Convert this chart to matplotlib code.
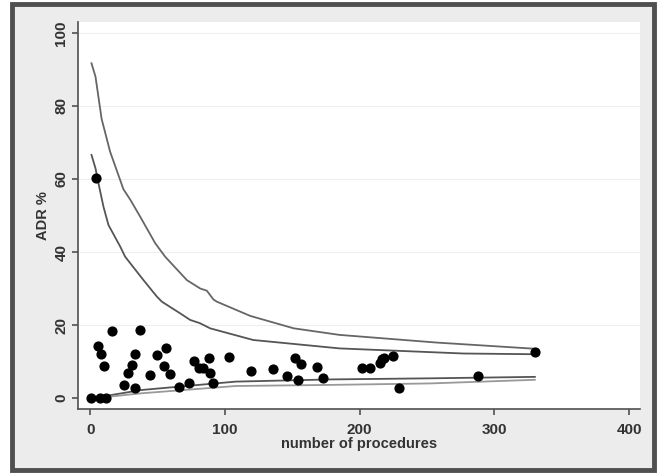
import matplotlib.pyplot as plt
from matplotlib.patches import Rectangle

# ADR per endoscopist vs number of procedures
n_proc = [1, 7, 12, 4.5, 16, 37, 6, 8, 10.5, 33, 31, 28, 25, 33, 49.5, 56,
          44.5, 54.5, 59.5, 66, 73, 77, 81, 83.5, 88, 89, 91, 103, 119, 136,
          146, 152, 156.5, 154.5, 168, 172.5, 202, 208, 215, 216.5, 218, 225,
          229, 288, 330]
adr = [0, 0, 0, 60.2, 18.4, 18.6, 14.3, 12.2, 8.8, 12, 9, 6.8, 3.7, 2.8,
       11.8, 13.8, 6.3, 8.8, 6.5, 2.9, 4, 10.1, 8.3, 8.1, 11, 6.8, 4.2, 11.3,
       7.4, 7.9, 6, 10.9, 9.2, 4.9, 8.6, 5.6, 8.1, 8.3, 9.5, 10.6, 11, 11.6,
       2.8, 6, 12.7]

# funnel limits
up_outer_x = [1, 4, 8.5, 14.8, 24.7, 30, 37.1, 48.3, 55.7, 71.8, 81.7, 86.6,
              91.5, 94, 118.8, 151, 185, 257, 330]
up_outer_y = [91.7, 88, 76.5, 67.5, 57.2, 54.2, 49.7, 42.4, 38.7, 32.3, 30,
              29.4, 27, 26.4, 22.5, 19.1, 17.3, 15.2, 13.5]
up_inner_x = [1, 4, 6.2, 9.9, 13.6, 22.3, 26, 39.6, 49.5, 53.2, 66.8, 74.2,
              81.5, 89, 121, 185, 277, 330]
up_inner_y = [66.6, 62.9, 58.8, 52.4, 47.4, 41.5, 38.7, 32.3, 27.8, 26.4,
              23.2, 21.4, 20.5, 19.1, 15.9, 13.6, 12.2, 12.0]
low_a_x = [1, 12, 38, 108, 178, 252, 330]
low_a_y = [0, 0.6, 2.2, 4.5, 5.1, 5.4, 5.8]
low_b_x = [1, 12, 38, 108, 178, 252, 330]
low_b_y = [0, 0.3, 1.3, 3.3, 3.6, 4.0, 5.0]

fig = plt.figure(figsize=(6.58, 4.74), dpi=100)
fig.patch.set_facecolor('white')
frame = Rectangle((12/658, 4/474), 642/658, 466/474,
                  transform=fig.transFigure, facecolor='#ececec',
                  edgecolor='#505050', linewidth=3.5, zorder=-5)
fig.add_artist(frame)

ax = fig.add_axes([78/658, 65/474, 562/658, 387/474])
ax.set_zorder(1)
ax.set_facecolor('white')

for y in [20, 40, 60, 80, 100]:
    ax.axhline(y, color='#eeeeee', lw=0.8, zorder=0)

ax.plot(up_outer_x, up_outer_y, color='#666666', lw=1.3)
ax.plot(up_inner_x, up_inner_y, color='#555555', lw=1.3)
ax.plot(low_a_x, low_a_y, color='#555555', lw=1.3)
ax.plot(low_b_x, low_b_y, color='#999999', lw=1.3)
ax.scatter(n_proc, adr, s=40, color='black', zorder=3)

ax.set_xlim(-9, 408)
ax.set_ylim(-3, 103)
ax.set_xticks([0, 100, 200, 300, 400])
ax.set_yticks([0, 20, 40, 60, 80, 100])
for s in ['top', 'right']:
    ax.spines[s].set_visible(False)
for s in ['left', 'bottom']:
    ax.spines[s].set_color('#505050')
    ax.spines[s].set_linewidth(1.2)
ax.tick_params(colors='#505050', length=4, width=1.2, labelcolor='#333333',
               labelsize=11)
ax.tick_params(axis='x', pad=6)
ax.tick_params(axis='y', pad=3)
plt.setp(ax.get_yticklabels(), rotation=90, va='center', fontweight='bold',
         family='Liberation Sans')
plt.setp(ax.get_xticklabels(), fontweight='bold', family='Liberation Sans')

ax.set_xlabel('number of procedures', fontsize=10.5, fontweight='bold',
              family='Liberation Sans', color='#333333', labelpad=0)
ax.set_ylabel('ADR %', fontsize=10.5, fontweight='bold',
              family='Liberation Sans', color='#333333', labelpad=3)

fig.savefig('out.png', dpi=100)
